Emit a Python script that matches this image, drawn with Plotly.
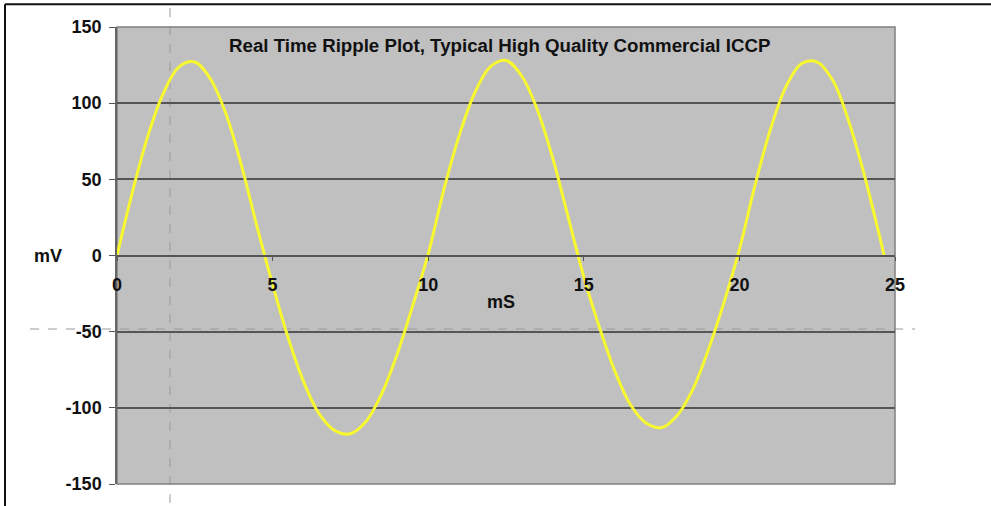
import plotly.graph_objects as go

# time in ms
t_ms = [0.0, 0.5, 1.0, 1.5, 2.0, 2.5, 3.0, 3.5, 4.0, 4.5,
        5.0, 5.5, 6.0, 6.5, 7.0, 7.5, 8.0, 8.5, 9.0, 9.5,
        10.0, 10.5, 11.0, 11.5, 12.0, 12.5, 13.0, 13.5, 14.0, 14.5,
        15.0, 15.5, 16.0, 16.5, 17.0, 17.5, 18.0, 18.5, 19.0, 19.5,
        20.0, 20.5, 21.0, 21.5, 22.0, 22.5, 23.0, 23.5, 24.0, 24.5, 24.65]
# ripple in mV
ripple_mv = [0, 42, 79, 107, 124, 127, 116, 93, 59, 19,
             -19, -54, -83, -104, -115, -117, -109, -91, -65, -33,
             1, 43, 79, 107, 124, 128, 118, 96, 64, 25,
             -14, -47, -76, -98, -110, -113, -105, -88, -62, -31,
             4, 46, 83, 111, 126, 127, 115, 89, 54, 13, 0]

x_ticks = [0, 5, 10, 15, 20, 25]
y_ticks = [-150, -100, -50, 0, 50, 100, 150]

title_text = "Real Time Ripple Plot, Typical High Quality Commercial ICCP"

FONT = "Liberation Sans, Arial, sans-serif"
W, H = 991, 506
ML, MR, MT, MB = 117, 96, 27, 19
PW = W - ML - MR
PH = H - MT - MB

def px_x(p):
    return (p - ML) / PW

def px_y(p):
    return (H - MB - p) / PH

fig = go.Figure()
fig.add_trace(go.Scatter(
    x=t_ms, y=ripple_mv, mode="lines",
    line=dict(color="#F8F830", width=3, shape="spline", smoothing=1.0),
    hoverinfo="skip", showlegend=False,
))

shapes = [
    # dashed crosshair lines
    dict(type="line", xref="paper", yref="paper", x0=px_x(170), x1=px_x(170),
         y0=px_y(8), y1=px_y(506), line=dict(color="#9a9a9a", width=1, dash="dash"),
         layer="below"),
    dict(type="line", xref="paper", yref="paper", x0=px_x(30), x1=px_x(915),
         y0=px_y(331), y1=px_y(331), line=dict(color="#9a9a9a", width=1, dash="dash"),
         layer="below"),
    # plot border
    dict(type="rect", xref="paper", yref="paper", x0=0, x1=1, y0=0, y1=1,
         line=dict(color="#808080", width=1.5), layer="below"),
    # image frame
    dict(type="line", xref="paper", yref="paper", x0=px_x(5), x1=px_x(995),
         y0=px_y(4), y1=px_y(4), line=dict(color="#111111", width=2), layer="above"),
    dict(type="line", xref="paper", yref="paper", x0=px_x(5), x1=px_x(5),
         y0=px_y(4), y1=px_y(510), line=dict(color="#111111", width=2), layer="above"),
]

annotations = [
    dict(text=title_text, xref="paper", yref="paper", x=px_x(499), y=px_y(46),
         showarrow=False, xanchor="center", yanchor="middle",
         font=dict(family=FONT, size=18.7, color="#111111", weight="bold")),
    dict(text="mS", xref="paper", yref="paper", x=px_x(501), y=px_y(304),
         showarrow=False, xanchor="center", yanchor="middle",
         font=dict(family=FONT, size=18, color="#111111", weight="bold")),
    dict(text="mV", xref="paper", yref="paper", x=px_x(48), y=px_y(257),
         showarrow=False, xanchor="center", yanchor="middle",
         font=dict(family=FONT, size=18, color="#111111", weight="bold")),
]

fig.update_layout(
    width=W, height=H,
    margin=dict(l=ML, r=MR, t=MT, b=MB, pad=0),
    paper_bgcolor="white", plot_bgcolor="#C0C0C0",
    showlegend=False,
    shapes=shapes, annotations=annotations,
    xaxis=dict(
        range=[0, 25], tickvals=x_ticks, ticktext=[str(v) for v in x_ticks],
        anchor="free", position=0.5,
        showgrid=False, zeroline=False,
        showline=True, linecolor="#555555", linewidth=2,
        ticks="outside", ticklen=4, tickcolor="#555555", tickwidth=1,
        ticklabelstandoff=9,
        tickfont=dict(family=FONT, size=18, color="#111111", weight="bold"),
    ),
    yaxis=dict(
        range=[-150, 150], tickvals=y_ticks, ticktext=[str(v) for v in y_ticks],
        showgrid=True, gridcolor="#555555", gridwidth=1.5,
        zeroline=False,
        showline=True, linecolor="#666666", linewidth=1.5,
        ticks="outside", ticklen=6, tickcolor="#555555", tickwidth=1,
        ticklabelstandoff=4,
        tickfont=dict(family=FONT, size=18, color="#111111", weight="bold"),
    ),
)

fig.write_html("out.html", config={"displayModeBar": False},
               post_script="document.body.style.margin='0px';")
